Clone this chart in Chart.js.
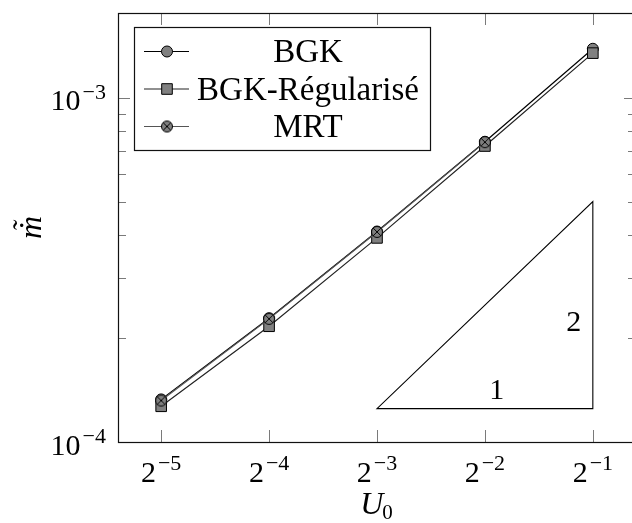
<!DOCTYPE html>
<html>
<head>
<meta charset="utf-8">
<script src="https://cdn.jsdelivr.net/npm/chart.js@4.4.1/dist/chart.umd.min.js"></script>
<style>
  html, body { margin: 0; padding: 0; background: #fff; overflow: hidden; width: 632px; height: 523px; }
  #wrap { position: absolute; left: 0; top: 0; width: 650px; height: 523px; }
</style>
</head>
<body>
<div id="wrap"><canvas id="c" width="650" height="523"></canvas></div>
<script>
// Inlet velocity U0 (powers of two) and their tick exponents
const xValues = [0.03125, 0.0625, 0.125, 0.25, 0.5];
const xTickExponents = [-5, -4, -3, -2, -1];

// Mass flow rate for each collision model
const bgk    = [1.33e-4, 2.29e-4, 4.09e-4, 7.46e-4, 1.39e-3];
const bgkReg = [1.27e-4, 2.17e-4, 3.92e-4, 7.25e-4, 1.35e-3];
const mrt    = [1.32e-4, 2.28e-4, 4.08e-4, 7.44e-4];

const seriesLabels = ['BGK', 'BGK-Régularisé', 'MRT'];

// y-axis decades and minor ticks
const yMajorTicks = [1e-4, 1e-3];
const yTickExponents = [-4, -3];
const yMinorTicks = [2e-4, 3e-4, 4e-4, 5e-4, 6e-4, 7e-4, 8e-4, 9e-4];

// slope triangle corners and its side labels
const triX = [0.125, 0.5, 0.5];
const triY = [1.25e-4, 1.25e-4, 5e-4];
const triLabels = ['1', '2'];

const SERIF = '"Liberation Serif", "DejaVu Serif", serif';
const MARK_FILL = '#808080';

function crossCircle(r) {
  const c = document.createElement('canvas');
  const s = Math.ceil(2 * r + 3);
  c.width = s; c.height = s;
  const g = c.getContext('2d');
  const m = s / 2;
  g.beginPath(); g.arc(m, m, r, 0, 2 * Math.PI);
  g.fillStyle = MARK_FILL; g.fill();
  g.lineWidth = 1; g.strokeStyle = '#000'; g.stroke();
  const d = r * Math.SQRT1_2;
  g.beginPath();
  g.moveTo(m - d, m - d); g.lineTo(m + d, m + d);
  g.moveTo(m + d, m - d); g.lineTo(m - d, m + d);
  g.stroke();
  return c;
}
const mrtMark = crossCircle(5.5);

function pts(ys) { return ys.map((v, i) => ({ x: xValues[i], y: v })); }

function drawMarker(ctx, ds, x, y) {
  ctx.save();
  const st = ds.pointStyle;
  if (st instanceof HTMLCanvasElement) {
    ctx.drawImage(st, x - st.width / 2, y - st.height / 2);
  } else {
    ctx.beginPath();
    if (st === 'rect') {
      const h = Math.SQRT1_2 * ds.pointRadius;
      ctx.rect(x - h, y - h, 2 * h, 2 * h);
    } else {
      ctx.arc(x, y, ds.pointRadius, 0, 2 * Math.PI);
    }
    ctx.fillStyle = ds.pointBackgroundColor; ctx.fill();
    ctx.lineWidth = ds.pointBorderWidth; ctx.strokeStyle = ds.pointBorderColor; ctx.stroke();
  }
  ctx.restore();
}

function seg(ctx, x1, y1, x2, y2) { ctx.beginPath(); ctx.moveTo(x1, y1); ctx.lineTo(x2, y2); ctx.stroke(); }

function powerLabel(ctx, base, exp, bx, baseY, expY, align) {
  ctx.font = '30px ' + SERIF;
  const wb = ctx.measureText(base).width;
  ctx.font = '22px ' + SERIF;
  const we = ctx.measureText(exp).width;
  const total = wb + 2 + we;
  const x0 = align === 'right' ? bx - total : bx - total / 2;
  ctx.textAlign = 'left'; ctx.textBaseline = 'alphabetic'; ctx.fillStyle = '#000';
  ctx.font = '30px ' + SERIF; ctx.fillText(base, x0, baseY);
  ctx.font = '22px ' + SERIF; ctx.fillText(exp, x0 + wb + 2, expY);
}

const decor = {
  id: 'decor',
  beforeDatasetsDraw(chart) {
    const { ctx, chartArea: a, scales: { x, y } } = chart;
    ctx.save();
    // slope triangle
    ctx.beginPath();
    triX.forEach((v, i) => {
      const px = x.getPixelForValue(v), py = y.getPixelForValue(triY[i]);
      if (i) ctx.lineTo(px, py); else ctx.moveTo(px, py);
    });
    ctx.closePath();
    ctx.strokeStyle = '#000'; ctx.lineWidth = 1.1; ctx.stroke();
    const xl = x.getPixelForValue(triX[0]), xr = x.getPixelForValue(triX[1]);
    const yb = y.getPixelForValue(triY[0]), yt = y.getPixelForValue(triY[2]);
    ctx.fillStyle = '#000'; ctx.font = '30px ' + SERIF;
    ctx.textAlign = 'center'; ctx.textBaseline = 'alphabetic';
    ctx.fillText(triLabels[0], xl + 0.555 * (xr - xl), yb - 10);
    ctx.fillText(triLabels[1], xr - 19, yb - 0.375 * (yb - yt));

    // inward ticks
    ctx.strokeStyle = '#7a7a7a'; ctx.lineWidth = 1;
    xValues.forEach(v => {
      const px = Math.round(x.getPixelForValue(v)) + 0.5;
      seg(ctx, px, a.bottom, px, a.bottom - 12);
      seg(ctx, px, a.top, px, a.top + 12);
    });
    yMajorTicks.forEach(v => {
      const py = Math.round(y.getPixelForValue(v)) + 0.5;
      seg(ctx, a.left, py, a.left + 12, py);
      seg(ctx, a.right, py, a.right - 12, py);
    });
    yMinorTicks.forEach(v => {
      const py = Math.round(y.getPixelForValue(v)) + 0.5;
      seg(ctx, a.left, py, a.left + 8, py);
      seg(ctx, a.right, py, a.right - 8, py);
    });
    // frame
    ctx.strokeStyle = '#111'; ctx.lineWidth = 1.2;
    ctx.strokeRect(Math.round(a.left) + 0.5, Math.round(a.top) + 0.5,
                   Math.round(a.right - a.left), Math.round(a.bottom - a.top));
    ctx.restore();
  },
  afterDraw(chart) {
    const { ctx, chartArea: a, scales: { x, y } } = chart;
    ctx.save();
    // tick labels
    xValues.forEach((v, i) => {
      const px = x.getPixelForValue(v);
      powerLabel(ctx, '2', '\u2212' + Math.abs(xTickExponents[i]), px, a.bottom + 40, a.bottom + 28, 'center');
    });
    yMajorTicks.forEach((v, i) => {
      const py = y.getPixelForValue(v);
      powerLabel(ctx, '10', '\u2212' + Math.abs(yTickExponents[i]), a.left - 12, py + 12.5, py + 1, 'right');
    });

    // axis titles
    ctx.fillStyle = '#000';
    ctx.font = 'italic 32px ' + SERIF;
    const uW = ctx.measureText('U').width;
    ctx.font = '21px ' + SERIF;
    const zW = ctx.measureText('0').width;
    const cx = x.getPixelForValue(xValues[2]);
    const ux = cx - (uW + zW) / 2;
    ctx.textAlign = 'left'; ctx.textBaseline = 'alphabetic';
    ctx.font = 'italic 32px ' + SERIF; ctx.fillText('U', ux, a.bottom + 72);
    ctx.font = '21px ' + SERIF; ctx.fillText('0', ux + uW - 1, a.bottom + 77);

    // y title: m with dot, tilde stacked above
    ctx.save();
    ctx.translate(41, (a.top + a.bottom) / 2);
    ctx.rotate(-Math.PI / 2);
    ctx.textAlign = 'center'; ctx.font = 'italic 32px ' + SERIF;
    ctx.fillText('\u1E41', 0, 0);
    ctx.font = 'italic 30px ' + SERIF;
    ctx.fillText('\u02DC', 1, -8);
    ctx.restore();

    // legend
    const bx = a.left + 16, by = a.top + 14, bw = 296, bh = 123;
    ctx.fillStyle = '#fff'; ctx.fillRect(bx, by, bw, bh);
    ctx.strokeStyle = '#111'; ctx.lineWidth = 1.2;
    ctx.strokeRect(bx + 0.5, by + 0.5, bw, bh);
    chart.data.datasets.forEach((ds, i) => {
      const ry = by + 24.5 + i * 37.5;
      ctx.strokeStyle = ds.borderColor; ctx.lineWidth = ds.borderWidth;
      seg(ctx, bx + 10, ry, bx + 55, ry);
      drawMarker(ctx, ds, bx + 33, ry);
      ctx.fillStyle = '#000'; ctx.font = '33px ' + SERIF;
      ctx.textAlign = 'center'; ctx.textBaseline = 'alphabetic';
      ctx.fillText(ds.label, bx + 174, ry + 10.5);
    });
    ctx.restore();
  }
};

new Chart(document.getElementById('c'), {
  type: 'line',
  data: {
    datasets: [
      {
        label: seriesLabels[0], data: pts(bgk), order: 3,
        borderColor: '#000', borderWidth: 1.2,
        pointStyle: 'circle', pointRadius: 5.5,
        pointBackgroundColor: MARK_FILL, pointBorderColor: '#000', pointBorderWidth: 1
      },
      {
        label: seriesLabels[1], data: pts(bgkReg), order: 2,
        borderColor: '#222', borderWidth: 1.2,
        pointStyle: 'rect', pointRadius: 7.5,
        pointBackgroundColor: MARK_FILL, pointBorderColor: '#000', pointBorderWidth: 1
      },
      {
        label: seriesLabels[2], data: pts(mrt), order: 1,
        borderColor: '#555', borderWidth: 1.2,
        pointStyle: mrtMark, pointRadius: 5.5,
        pointBackgroundColor: MARK_FILL, pointBorderColor: '#000', pointBorderWidth: 1
      }
    ]
  },
  options: {
    responsive: false,
    animation: false,
    devicePixelRatio: 1,
    layout: { padding: { left: 118, right: 14, top: 13, bottom: 81 } },
    elements: { line: { tension: 0, fill: false } },
    plugins: { legend: { display: false }, tooltip: { enabled: false } },
    scales: {
      x: {
        type: 'logarithmic', min: 0.023683, max: 0.65975,
        ticks: { display: false }, grid: { display: false, drawTicks: false },
        border: { display: false }, title: { display: false }
      },
      y: {
        type: 'logarithmic', min: 1e-4, max: 1.766e-3,
        ticks: { display: false }, grid: { display: false, drawTicks: false },
        border: { display: false }, title: { display: false }
      }
    }
  },
  plugins: [decor]
});
</script>
</body>
</html>
